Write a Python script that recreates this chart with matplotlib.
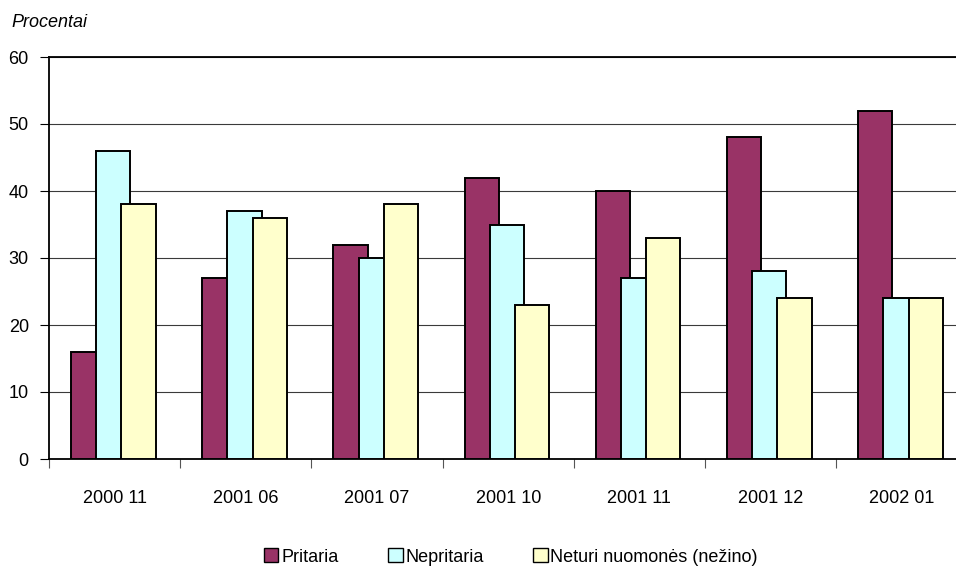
"""
plot.py - Grouped bar chart of survey answers (Pritaria / Nepritaria / Neturi
nuomonės) for seven survey waves, drawn in the old Excel style.

Usage:
    python plot.py
"""

import matplotlib.pyplot as plt
from matplotlib.patches import Patch
from matplotlib.ticker import MultipleLocator

CATEGORIES = ["2000 11", "2001 06", "2001 07", "2001 10", "2001 11", "2001 12", "2002 01"]
PRITARIA   = [16, 27, 32, 42, 40, 48, 52]
NEPRITARIA = [46, 37, 30, 35, 27, 28, 24]
NETURI     = [38, 36, 38, 23, 33, 24, 24]
SERIES_LABELS = ["Pritaria", "Nepritaria", "Neturi nuomonės (nežino)"]

COLORS = ["#993366", "#CCFFFF", "#FFFFCC"]
BAR_W = 0.26
OFFSETS = [-0.202, -0.01, 0.182]   # bars overlap like Excel's clustered columns
FONT = "Liberation Sans"


def main():
    plt.rcParams["font.family"] = [FONT, "DejaVu Sans"]

    fig = plt.figure(figsize=(9.56, 5.71), dpi=100)
    # right edge runs past the figure: the original picture is cropped there
    ax = fig.add_axes([49 / 956, 112 / 571, 918.4 / 956, 402 / 571])

    centers = [i + 0.5 for i in range(len(CATEGORIES))]
    for vals, off, col in zip([PRITARIA, NEPRITARIA, NETURI], OFFSETS, COLORS):
        ax.bar([c + off for c in centers], vals, width=BAR_W, color=col,
               edgecolor="black", linewidth=1.4, zorder=3)

    ax.set_xlim(0, len(CATEGORIES))
    ax.set_ylim(0, 60)
    ax.yaxis.set_major_locator(MultipleLocator(10))
    ax.grid(axis="y", color="#3a3a3a", linewidth=0.8, zorder=0)

    # category labels at centres, tick marks at the boundaries
    ax.set_xticks(centers)
    ax.set_xticklabels(CATEGORIES, fontsize=13)
    ax.tick_params(axis="x", which="major", length=0, pad=22)
    ax.set_xticks(range(len(CATEGORIES) + 1), minor=True)
    ax.tick_params(axis="x", which="minor", length=6.5, width=0.8, direction="out",
                   color="#555555")
    ax.tick_params(axis="y", labelsize=13, length=6.5, width=0.8, pad=8,
                   direction="out")

    for side in ("left", "bottom", "top"):
        ax.spines[side].set_linewidth(1.3)
        ax.spines[side].set_color("black")
    ax.spines["right"].set_visible(False)

    fig.text(0.012, 0.961, "Procentai", fontsize=13, style="italic",
             ha="left", va="center")

    handles = [Patch(facecolor=c, edgecolor="black", linewidth=1.0) for c in COLORS]
    fig.legend(handles, SERIES_LABELS, loc="center", ncol=3,
               bbox_to_anchor=(511 / 956, 14 / 571), frameon=False,
               fontsize=13, handlelength=0.8, handleheight=0.8,
               handletextpad=0.15, columnspacing=2.75)

    fig.savefig("out.png", dpi=100)


if __name__ == "__main__":
    main()
